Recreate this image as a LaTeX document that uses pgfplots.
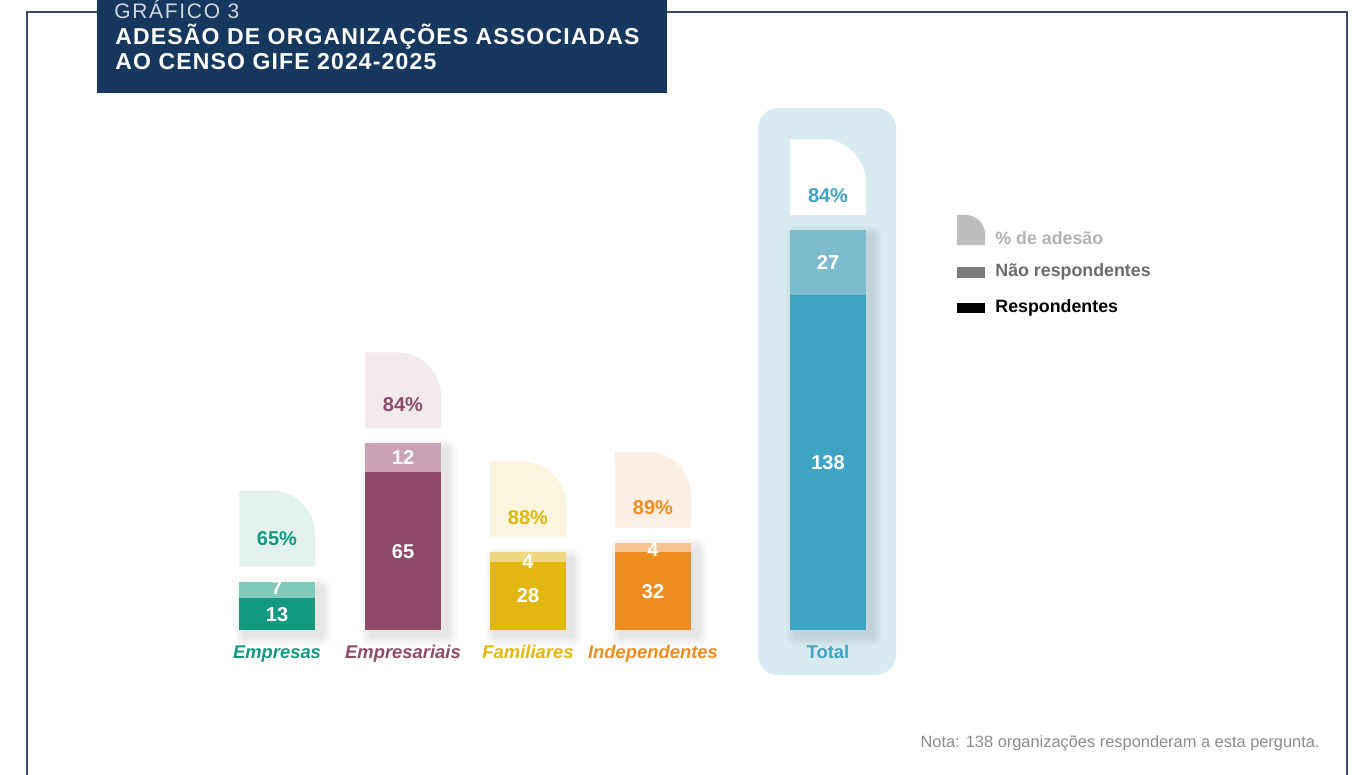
\documentclass[border=0pt]{standalone}
\usepackage{pgfplots}
\pgfplotsset{compat=1.18}
\usepackage{fontspec}
\setmainfont{Liberation Sans}
\newfontfamily\titlefont[LetterSpace=5]{Liberation Sans}
\newfontfamily\suptitlefont[LetterSpace=8]{Liberation Sans}
\definecolor{navy}{HTML}{16375E}
\definecolor{frame}{HTML}{3B4B66}
\definecolor{empD}{HTML}{129A7E}
\definecolor{empL}{HTML}{80CAB9}
\definecolor{empP}{HTML}{E3F1EF}
\definecolor{epsD}{HTML}{8F4A6A}
\definecolor{epsL}{HTML}{C9A2B5}
\definecolor{epsP}{HTML}{F3EAEE}
\definecolor{famD}{HTML}{E2B70F}
\definecolor{famL}{HTML}{EED77E}
\definecolor{famP}{HTML}{FBF5DD}
\definecolor{indD}{HTML}{EF8C1F}
\definecolor{indL}{HTML}{F6C393}
\definecolor{indP}{HTML}{FBEEE4}
\definecolor{totD}{HTML}{3FA3C3}
\definecolor{totL}{HTML}{7DBBCF}
\definecolor{totBg}{HTML}{D8EBF1}
% percentage shape: #1 left x, #2 centre x, #3 stack total, #4 fill, #5 text colour, #6 text, #7 text offset
\newcommand{\pctshape}[7]{%
  \fill[#4] (axis cs:#1,#3) ++(0pt,7.5pt) -- ++(0pt,38pt) -- ++(16pt,0pt)
     arc[start angle=90,end angle=0,radius=22pt] -- ++(0pt,-16pt) -- cycle;
  \node[text=#5,font=\bfseries\fontsize{10}{12}\selectfont] at (axis cs:#2,#3) [yshift=#7] {#6};
}
% soft shadow behind a bar: #1 left x, #2 right x, #3 top value
\newcommand{\barshadow}[3]{%
  \fill[black,opacity=0.02,rounded corners=1pt] ([xshift=2pt,yshift=-4pt]axis cs:#1,0) rectangle ([xshift=4pt,yshift=-2pt]axis cs:#2,#3);
  \fill[black,opacity=0.02,rounded corners=2pt] ([xshift=1pt,yshift=-5pt]axis cs:#1,0) rectangle ([xshift=5pt,yshift=-1pt]axis cs:#2,#3);
  \fill[black,opacity=0.02,rounded corners=3pt] ([xshift=0pt,yshift=-6pt]axis cs:#1,0) rectangle ([xshift=6pt,yshift=0pt]axis cs:#2,#3);
  \fill[black,opacity=0.02,rounded corners=4pt] ([xshift=-1pt,yshift=-7pt]axis cs:#1,0) rectangle ([xshift=7pt,yshift=1pt]axis cs:#2,#3);
  \fill[black,opacity=0.02,rounded corners=5pt] ([xshift=-2pt,yshift=-8pt]axis cs:#1,0) rectangle ([xshift=8pt,yshift=2pt]axis cs:#2,#3);
}
\begin{document}
\begin{tikzpicture}
\begin{scope}[x=0.5pt,y=-0.5pt]
\fill[white] (0,0) rectangle (1363,775);
\draw[frame,line width=0.7pt] (27,776) -- (27,12) -- (1347,12) -- (1347,776);
\fill[navy] (97,0) rectangle (667,93);
\node[anchor=base west,inner sep=0pt,text=white!80!navy,font=\suptitlefont\fontsize{10.5}{12}\selectfont] at (114,19) {GRÁFICO 3};
\node[anchor=base west,inner sep=0pt,text=white,font=\titlefont\bfseries\fontsize{11.5}{12.5}\selectfont] at (115,45) {ADESÃO DE ORGANIZAÇÕES ASSOCIADAS};
\node[anchor=base west,inner sep=0pt,text=white,font=\titlefont\bfseries\fontsize{11.5}{12.5}\selectfont] at (115,70) {AO CENSO GIFE 2024-2025};
\fill[totBg] (758,108) [rounded corners=10pt] rectangle (896,675);
% legend
\fill[black!26] (957,245) -- (957,215) -- (966,215) arc[start angle=90,end angle=0,radius=9.5pt] -- (985,245) -- cycle;
\node[anchor=west,inner sep=0pt,text=black!30,font=\bfseries\fontsize{8.9}{10}\selectfont] at (995,238) {\% de adesão};
\fill[black!52] (957,267) rectangle (985,278);
\node[anchor=west,inner sep=0pt,text=black!58,font=\bfseries\fontsize{8.9}{10}\selectfont] at (995,272) {Não respondentes};
\fill[black] (957,303) rectangle (985,313);
\node[anchor=west,inner sep=0pt,text=black,font=\bfseries\fontsize{8.9}{10}\selectfont] at (995,308) {Respondentes};
\node[anchor=east,inner sep=0pt,text=black!45,font=\fontsize{8.2}{9}\selectfont] at (1320,743) {Nota: 138 organizações responderam a esta pergunta.};
\end{scope}
\begin{axis}[at={(0pt,-387.5pt)},anchor=south west,width=681.5pt,height=387.5pt,
  scale only axis,xmin=0,xmax=1363,ymin=-59.82,ymax=259.9,axis lines=none,clip=false,
  ybar,bar width=76,bar shift=0pt]
\barshadow{239}{315}{20}
\barshadow{365}{441}{77}
\barshadow{490}{566}{32}
\barshadow{615}{691}{36}
\barshadow{790}{866}{165}
% Empresas: 13 respondentes, 7 nao respondentes
\addplot[fill=empL,draw=none] coordinates {(277,20)};
\addplot[fill=empD,draw=none] coordinates {(277,13)};
% Empresariais: 65 + 12
\addplot[fill=epsL,draw=none] coordinates {(403,77)};
\addplot[fill=epsD,draw=none] coordinates {(403,65)};
% Familiares: 28 + 4
\addplot[fill=famL,draw=none] coordinates {(528,32)};
\addplot[fill=famD,draw=none] coordinates {(528,28)};
% Independentes: 32 + 4
\addplot[fill=indL,draw=none] coordinates {(653,36)};
\addplot[fill=indD,draw=none] coordinates {(653,32)};
% Total: 138 + 27
\addplot[fill=totL,draw=none] coordinates {(828,165)};
\addplot[fill=totD,draw=none] coordinates {(828,138)};
\pctshape{239}{277}{20}{empP}{empD}{65\%}{21.5pt}
\pctshape{365}{403}{77}{epsP}{epsD}{84\%}{19.5pt}
\pctshape{490}{528}{32}{famP}{famD}{88\%}{17.5pt}
\pctshape{615}{653}{36}{indP}{indD}{89\%}{17.5pt}
\pctshape{790}{828}{165}{white}{totD}{84\%}{17pt}
\begin{scope}[every node/.style={text=white,font=\bfseries\fontsize{10}{12}\selectfont}]
\node at (axis cs:277,6.5) {13};
\node at (axis cs:277,16.5) [yshift=1pt] {7};
\node at (axis cs:403,32.5) {65};
\node at (axis cs:403,71) {12};
\node at (axis cs:528,14) {28};
\node at (axis cs:528,30) [yshift=-2pt] {4};
\node at (axis cs:653,16) {32};
\node at (axis cs:653,34) [yshift=-1pt] {4};
\node at (axis cs:828,69) {138};
\node at (axis cs:828,151.5) {27};
\end{scope}
\begin{scope}[every node/.style={anchor=base,font=\bfseries\itshape\fontsize{9.2}{11}\selectfont}]
\node[text=empD] at (axis cs:277,0) [yshift=-14pt] {Empresas};
\node[text=epsD] at (axis cs:403,0) [yshift=-14pt] {Empresariais};
\node[text=famD] at (axis cs:528,0) [yshift=-14pt] {Familiares};
\node[text=indD] at (axis cs:653,0) [yshift=-14pt] {Independentes};
\node[text=totD,font=\bfseries\fontsize{9.2}{11}\selectfont] at (axis cs:828,0) [yshift=-14pt] {Total};
\end{scope}
\end{axis}
\pgfresetboundingbox
\path[use as bounding box] (0pt,0pt) rectangle (681.5pt,-387.5pt);
\end{tikzpicture}
\end{document}
